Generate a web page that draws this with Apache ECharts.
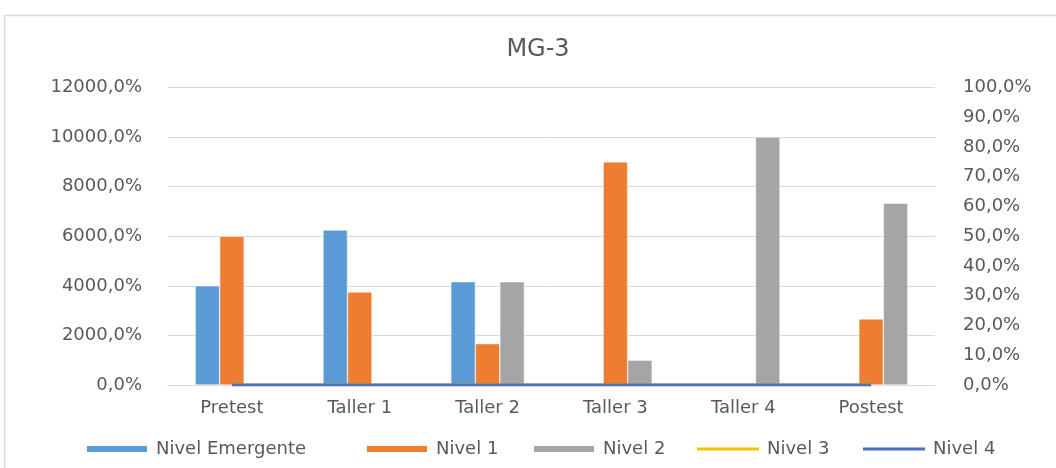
<!DOCTYPE html>
<html>
<head>
<meta charset="utf-8">
<script src="https://cdn.jsdelivr.net/npm/echarts@6/dist/echarts.min.js"></script>
<style>
html,body{margin:0;padding:0;background:#fff;}
#c{width:1056px;height:468px;}
</style>
</head>
<body>
<div id="c"></div>
<script>
const categories = ['Pretest', 'Taller 1', 'Taller 2', 'Taller 3', 'Taller 4', 'Postest'];
const seriesNames = ['Nivel Emergente', 'Nivel 1', 'Nivel 2', 'Nivel 3', 'Nivel 4'];
const nivelEmergente = [4000, 6250, 4167, 0, 0, 0];
const nivel1 = [6000, 3750, 1667, 9000, 0, 2667];
const nivel2 = [0, 0, 4167, 1000, 10000, 7333];
const nivel3 = [0, 0, 0, 0, 0, 0];
const nivel4 = [0, 0, 0, 0, 0, 0];
const leftTicks = {min: 0, max: 12000, interval: 2000};
const rightTicks = {min: 0, max: 100, interval: 10};

const fmt = v => v.toFixed(1).replace('.', ',') + '%';
const FONT = 'DejaVu Sans';
const TXT = '#595959';
const COLORS = ['#5B9BD5', '#ED7D31', '#A5A5A5', '#FFC000', '#4472C4'];
const legendLeft = [80, 360, 527, 692, 858];
const lineIcon = 'path://M0,0L0,0M0,2.5L62,2.5L62,5.5L0,5.5ZM0,8L0,8';

const legends = seriesNames.map((n, i) => ({
  data: [{name: n, icon: i < 3 ? 'rect' : lineIcon}],
  left: legendLeft[i], top: 435,
  itemWidth: 62, itemHeight: 8, itemGap: 0,
  textStyle: {fontFamily: FONT, fontSize: 18, color: TXT, padding: [0, 0, 0, 3]}
}));

const barStyle = i => ({color: COLORS[i], borderColor: '#fff', borderWidth: 0.5});

const chart = echarts.init(document.getElementById('c'));
chart.setOption({
  animation: false,
  backgroundColor: '#fff',
  title: {
    text: 'MG-3', left: 533, top: 33, textAlign: 'center',
    textStyle: {fontFamily: FONT, fontSize: 24, fontWeight: 'normal', color: TXT}
  },
  graphic: [{
    type: 'rect', silent: true, z: -1,
    shape: {x: 4.5, y: 15.5, width: 1200, height: 600},
    style: {fill: 'none', stroke: '#D9D9D9', lineWidth: 1.5}
  }],
  legend: legends,
  grid: {left: 168, right: 121, top: 87.5, bottom: 83, containLabel: false},
  xAxis: {
    type: 'category', data: categories,
    axisLine: {show: true, lineStyle: {color: '#D9D9D9'}},
    axisTick: {show: false},
    axisLabel: {fontFamily: FONT, fontSize: 18, color: TXT, margin: 14}
  },
  yAxis: [{
    type: 'value', min: leftTicks.min, max: leftTicks.max, interval: leftTicks.interval,
    axisLine: {show: false}, axisTick: {show: false},
    splitLine: {lineStyle: {color: '#D9D9D9', width: 1}},
    axisLabel: {fontFamily: FONT, fontSize: 18, color: TXT, margin: 26, formatter: fmt}
  }, {
    type: 'value', min: rightTicks.min, max: rightTicks.max, interval: rightTicks.interval,
    axisLine: {show: false}, axisTick: {show: false}, splitLine: {show: false},
    axisLabel: {fontFamily: FONT, fontSize: 18, color: TXT, margin: 28, formatter: fmt}
  }],
  series: [
    {name: seriesNames[0], type: 'bar', data: nivelEmergente, barGap: '0%', barCategoryGap: '42.5%', itemStyle: barStyle(0)},
    {name: seriesNames[1], type: 'bar', data: nivel1, barGap: '0%', barCategoryGap: '42.5%', itemStyle: barStyle(1)},
    {name: seriesNames[2], type: 'bar', data: nivel2, barGap: '0%', barCategoryGap: '42.5%', itemStyle: barStyle(2)},
    {name: seriesNames[3], type: 'line', yAxisIndex: 1, data: nivel3, showSymbol: false, symbol: 'none',
      lineStyle: {color: COLORS[3], width: 3}, itemStyle: {color: COLORS[3]}, z: 3},
    {name: seriesNames[4], type: 'line', yAxisIndex: 1, data: nivel4, showSymbol: false, symbol: 'none',
      lineStyle: {color: COLORS[4], width: 3}, itemStyle: {color: COLORS[4]}, z: 4}
  ]
});
</script>
</body>
</html>
